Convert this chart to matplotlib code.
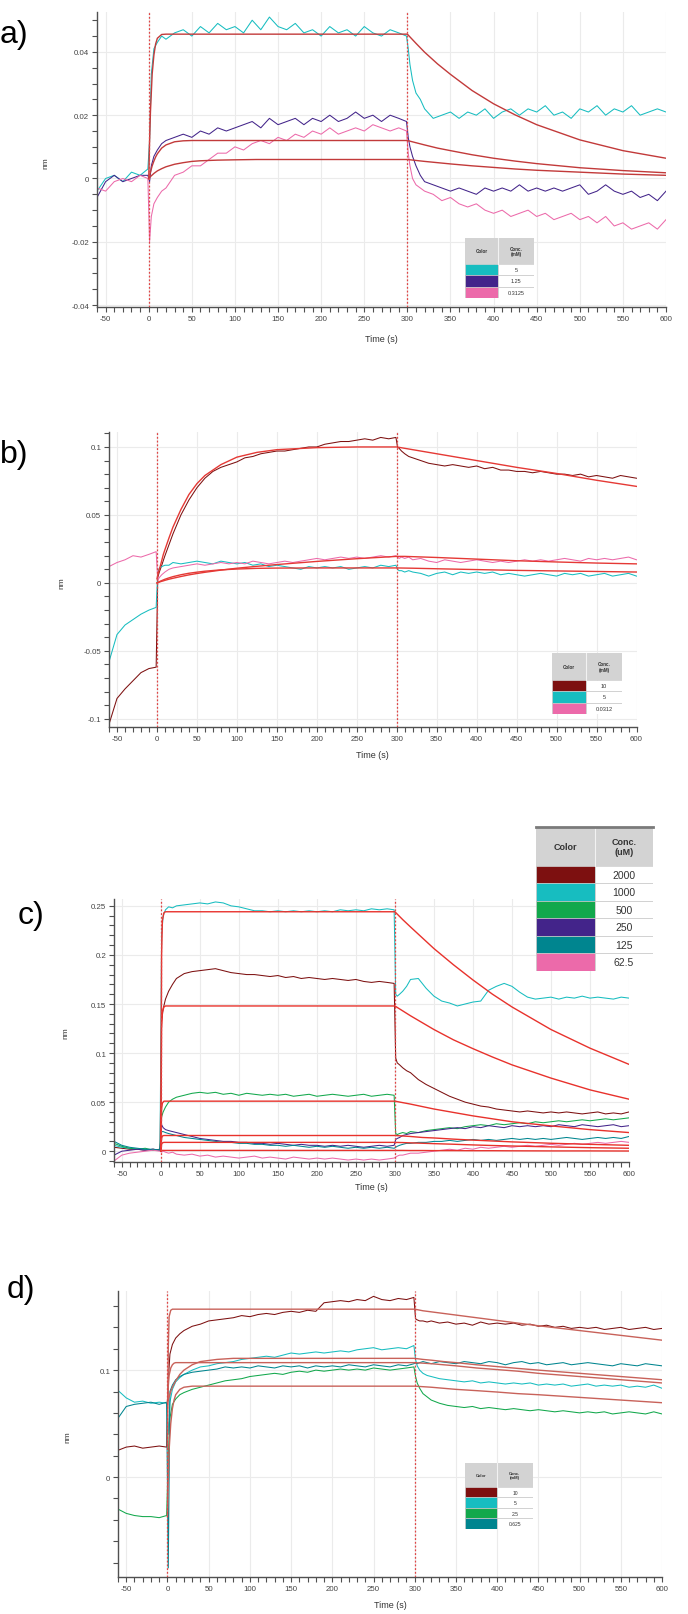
import numpy as np
import matplotlib
matplotlib.use("Agg")
import matplotlib.pyplot as plt
from matplotlib.ticker import MultipleLocator, FuncFormatter
from matplotlib.patches import Rectangle

plt.rcParams['axes.unicode_minus'] = False
plt.rcParams['font.family'] = ['Liberation Sans', 'DejaVu Sans']

# sampling times of the raw traces (s): baseline, association, dissociation
T = ([-60, -50, -40, -30, -20, -10, -1]
     + [1, 3, 6, 10, 15, 20] + list(range(30, 300, 10)) + [299]
     + [301, 303, 306, 310, 315, 320] + list(range(330, 610, 10)))
# sampling times of the fitted curves (s)
TF = [0, 1, 2, 4, 6, 8, 10, 15, 20, 30, 40, 50, 60, 80, 100, 125, 150, 200, 250, 300,
      310, 320, 335, 350, 375, 400, 425, 450, 500, 550, 600]

# ---------------- panel a ----------------
a_cyan = [
    -0.004, 0.000, 0.001, -0.001, 0.002, 0.001, 0.003,
    0.012, 0.033, 0.041, 0.043, 0.045, 0.044,
    0.046, 0.047, 0.045, 0.048, 0.046, 0.049, 0.047, 0.048, 0.046, 0.050,
    0.047, 0.051, 0.048, 0.047, 0.049, 0.046, 0.047, 0.045, 0.048, 0.046,
    0.047, 0.045, 0.048, 0.046, 0.045, 0.047, 0.046, 0.045,
    0.041, 0.036, 0.031, 0.027, 0.025, 0.022,
    0.019, 0.020, 0.021, 0.019, 0.021, 0.020, 0.022, 0.019, 0.021, 0.022,
    0.020, 0.022, 0.021, 0.023, 0.020, 0.021, 0.019, 0.022, 0.021, 0.023,
    0.020, 0.022, 0.021, 0.023, 0.020, 0.021, 0.022, 0.021]
a_purple = [
    -0.006, -0.001, 0.001, -0.001, 0.000, 0.001, 0.001,
    -0.001, 0.004, 0.007, 0.009, 0.011, 0.012,
    0.013, 0.014, 0.013, 0.015, 0.014, 0.016, 0.015, 0.016, 0.017, 0.018,
    0.016, 0.019, 0.017, 0.018, 0.019, 0.017, 0.019, 0.018, 0.020, 0.018,
    0.019, 0.021, 0.019, 0.020, 0.018, 0.020, 0.019, 0.018,
    0.013, 0.010, 0.007, 0.004, 0.001, -0.001,
    -0.002, -0.003, -0.004, -0.003, -0.004, -0.005, -0.003, -0.004, -0.003, -0.004,
    -0.002, -0.004, -0.003, -0.004, -0.003, -0.004, -0.003, -0.002, -0.005, -0.004,
    -0.002, -0.004, -0.005, -0.004, -0.006, -0.005, -0.007, -0.004]
a_pink = [
    -0.003, -0.004, -0.001, 0.000, -0.001, 0.001, 0.000,
    -0.020, -0.012, -0.008, -0.006, -0.004, -0.003,
    0.001, 0.002, 0.004, 0.004, 0.006, 0.008, 0.008, 0.010, 0.009, 0.011,
    0.012, 0.011, 0.013, 0.012, 0.014, 0.013, 0.015, 0.014, 0.016, 0.014,
    0.015, 0.016, 0.015, 0.017, 0.016, 0.015, 0.016, 0.015,
    0.008, 0.004, 0.000, -0.002, -0.003, -0.004,
    -0.005, -0.007, -0.006, -0.008, -0.009, -0.008, -0.010, -0.011, -0.010, -0.012,
    -0.011, -0.010, -0.012, -0.011, -0.013, -0.012, -0.011, -0.013, -0.012, -0.014,
    -0.012, -0.015, -0.014, -0.016, -0.015, -0.014, -0.016, -0.013]
a_fit1 = [0, 0.012, 0.021, 0.033, 0.039, 0.0425, 0.0443, 0.0455, 0.0456] + [0.0456] * 11 + [
    0.0427, 0.0399, 0.0362, 0.0329, 0.0278, 0.0236, 0.0201, 0.0170, 0.0122, 0.0088, 0.0064]
a_fit2 = [0, 0.001, 0.002, 0.004, 0.0055, 0.0068, 0.0078, 0.0096, 0.0106, 0.0116, 0.0119] + [0.012] * 9 + [
    0.0113, 0.0106, 0.0096, 0.0088, 0.0075, 0.0064, 0.0055, 0.0047, 0.0034, 0.0025, 0.0018]
a_fit3 = [0, 0.0003, 0.0006, 0.0011, 0.0016, 0.002, 0.0024, 0.0031, 0.0037, 0.0045, 0.005,
          0.0054, 0.0056, 0.0058, 0.0059, 0.006, 0.006, 0.006, 0.006, 0.006,
          0.0057, 0.0054, 0.005, 0.0046, 0.004, 0.0035, 0.003, 0.0026, 0.002, 0.0014, 0.001]
a_conc = ['5', '1.25', '0.3125']

# ---------------- panel b ----------------
b_maroon = [
    -0.104, -0.085, -0.078, -0.072, -0.066, -0.063, -0.062,
    0.004, 0.008, 0.013, 0.020, 0.028, 0.036,
    0.050, 0.061, 0.070, 0.077, 0.082, 0.085, 0.087, 0.089, 0.092, 0.093,
    0.095, 0.096, 0.097, 0.097, 0.098, 0.099, 0.100, 0.100, 0.102, 0.103,
    0.104, 0.104, 0.105, 0.106, 0.105, 0.107, 0.106, 0.107,
    0.100, 0.099, 0.097, 0.095, 0.093, 0.092,
    0.090, 0.088, 0.087, 0.086, 0.087, 0.086, 0.085, 0.086, 0.084, 0.085,
    0.083, 0.083, 0.082, 0.082, 0.081, 0.082, 0.081, 0.080, 0.080, 0.079,
    0.080, 0.078, 0.079, 0.078, 0.077, 0.079, 0.078, 0.077]
b_cyan = [
    -0.058, -0.038, -0.031, -0.027, -0.023, -0.020, -0.018,
    0.008, 0.011, 0.012, 0.013, 0.013, 0.015,
    0.014, 0.015, 0.016, 0.015, 0.014, 0.016, 0.015, 0.014, 0.015, 0.013,
    0.014, 0.012, 0.013, 0.012, 0.011, 0.010, 0.012, 0.011, 0.012, 0.011,
    0.012, 0.010, 0.011, 0.012, 0.011, 0.013, 0.012, 0.013,
    0.010, 0.009, 0.009, 0.008, 0.009, 0.008,
    0.007, 0.005, 0.007, 0.008, 0.006, 0.008, 0.007, 0.008, 0.007, 0.008,
    0.006, 0.007, 0.006, 0.005, 0.006, 0.007, 0.006, 0.005, 0.007, 0.006,
    0.007, 0.005, 0.006, 0.007, 0.005, 0.006, 0.007, 0.005]
b_pink = [
    0.012, 0.015, 0.017, 0.020, 0.019, 0.021, 0.023,
    0.002, 0.004, 0.006, 0.008, 0.010, 0.011,
    0.012, 0.013, 0.014, 0.013, 0.014, 0.015, 0.014, 0.015, 0.014, 0.016,
    0.015, 0.014, 0.015, 0.016, 0.015, 0.016, 0.017, 0.018, 0.017, 0.018,
    0.019, 0.018, 0.019, 0.018, 0.019, 0.020, 0.019, 0.020,
    0.019, 0.018, 0.019, 0.018, 0.019, 0.017,
    0.018, 0.016, 0.015, 0.017, 0.016, 0.015, 0.016, 0.017, 0.016, 0.015,
    0.016, 0.015, 0.016, 0.017, 0.016, 0.017, 0.016, 0.017, 0.018, 0.017,
    0.016, 0.018, 0.017, 0.018, 0.017, 0.018, 0.019, 0.017]
b_fit1 = [0.003, 0.0055, 0.008, 0.012, 0.0165, 0.021, 0.0245, 0.033, 0.041, 0.054, 0.065,
          0.073, 0.079, 0.087, 0.0925, 0.096, 0.098, 0.0995, 0.1, 0.1,
          0.099, 0.098, 0.0965, 0.095, 0.0925, 0.090, 0.0875, 0.085, 0.0805, 0.0755, 0.071]
b_fit2 = [0, 0.0003, 0.0006, 0.0012, 0.0017, 0.0022, 0.0027, 0.0037, 0.0046, 0.006, 0.0071,
          0.0079, 0.0086, 0.0096, 0.0102, 0.0107, 0.0109, 0.011, 0.011, 0.011,
          0.0109, 0.0108, 0.0106, 0.0104, 0.0101, 0.0098, 0.0095, 0.0092, 0.0088, 0.0084, 0.008]
b_fit3 = [0, 0.0002, 0.0004, 0.0008, 0.0012, 0.0015, 0.0019, 0.0027, 0.0034, 0.0047, 0.0059,
          0.0069, 0.0078, 0.0094, 0.0108, 0.0122, 0.0135, 0.0158, 0.0178, 0.0195,
          0.0195, 0.0193, 0.019, 0.0187, 0.0181, 0.0175, 0.0169, 0.0163, 0.0154, 0.0146, 0.014]
b_conc = ['10', '5', '0.0312']

# ---------------- panel c ----------------
c_maroon = [
    0.004, 0.003, 0.002, 0.002, 0.001, 0.002, 0.001,
    0.132, 0.145, 0.155, 0.163, 0.170, 0.176,
    0.181, 0.183, 0.184, 0.185, 0.186, 0.184, 0.182, 0.181, 0.180, 0.180,
    0.179, 0.178, 0.179, 0.177, 0.178, 0.176, 0.177, 0.176, 0.175, 0.176,
    0.175, 0.174, 0.175, 0.173, 0.172, 0.173, 0.172, 0.171,
    0.095, 0.090, 0.088, 0.085, 0.082, 0.080,
    0.073, 0.068, 0.064, 0.060, 0.056, 0.053, 0.050, 0.048, 0.046, 0.045,
    0.043, 0.042, 0.041, 0.040, 0.041, 0.040, 0.039, 0.040, 0.039, 0.040,
    0.039, 0.038, 0.039, 0.040, 0.038, 0.039, 0.038, 0.040]
c_cyan = [
    0.006, 0.004, 0.003, 0.002, 0.002, 0.001, 0.002,
    0.220, 0.240, 0.246, 0.249, 0.248, 0.250,
    0.251, 0.252, 0.253, 0.252, 0.254, 0.253, 0.250, 0.249, 0.247, 0.245,
    0.245, 0.244, 0.245, 0.244, 0.245, 0.244, 0.245, 0.244, 0.245, 0.244,
    0.246, 0.245, 0.246, 0.245, 0.247, 0.246, 0.247, 0.246,
    0.160, 0.158, 0.160, 0.163, 0.168, 0.175,
    0.176, 0.166, 0.158, 0.153, 0.151, 0.148, 0.150, 0.152, 0.153, 0.164,
    0.168, 0.171, 0.168, 0.162, 0.157, 0.155, 0.156, 0.157, 0.155, 0.157,
    0.156, 0.158, 0.156, 0.157, 0.156, 0.155, 0.157, 0.156]
c_green = [
    0.008, 0.005, 0.003, 0.002, 0.003, 0.001, 0.002,
    0.035, 0.040, 0.045, 0.050, 0.053, 0.055,
    0.057, 0.059, 0.060, 0.059, 0.060, 0.058, 0.059, 0.057, 0.059, 0.058,
    0.057, 0.058, 0.057, 0.058, 0.056, 0.057, 0.058, 0.056, 0.057, 0.058,
    0.057, 0.056, 0.057, 0.058, 0.056, 0.057, 0.058, 0.057,
    0.018, 0.017, 0.018, 0.019, 0.018, 0.020,
    0.019, 0.021, 0.022, 0.023, 0.024, 0.023, 0.025, 0.026, 0.027, 0.026,
    0.028, 0.027, 0.028, 0.029, 0.028, 0.030, 0.029, 0.030, 0.031, 0.030,
    0.031, 0.032, 0.031, 0.032, 0.033, 0.032, 0.033, 0.034]
c_purple = [
    -0.004, 0.000, 0.001, 0.002, 0.001, 0.002, 0.001,
    0.027, 0.024, 0.022, 0.021, 0.020, 0.019,
    0.017, 0.015, 0.013, 0.012, 0.011, 0.010, 0.010, 0.009, 0.009, 0.008,
    0.008, 0.007, 0.008, 0.007, 0.006, 0.007, 0.006, 0.006, 0.005, 0.006,
    0.005, 0.006, 0.005, 0.004, 0.005, 0.006, 0.005, 0.006,
    0.012, 0.013, 0.014, 0.016, 0.017, 0.018,
    0.019, 0.020, 0.021, 0.022, 0.023, 0.024, 0.023, 0.025, 0.024, 0.026,
    0.025, 0.024, 0.026, 0.025, 0.026, 0.025, 0.026, 0.025, 0.027, 0.026,
    0.025, 0.027, 0.026, 0.025, 0.026, 0.027, 0.025, 0.026]
c_teal = [
    0.010, 0.006, 0.004, 0.003, 0.002, 0.002, 0.001,
    0.020, 0.020, 0.019, 0.018, 0.017, 0.016,
    0.014, 0.013, 0.012, 0.011, 0.010, 0.009, 0.009, 0.008, 0.008, 0.007,
    0.007, 0.006, 0.006, 0.005, 0.006, 0.005, 0.004, 0.005, 0.004, 0.005,
    0.004, 0.003, 0.004, 0.003, 0.004, 0.003, 0.004, 0.003,
    0.004, 0.005, 0.006, 0.007, 0.008, 0.008,
    0.009, 0.009, 0.010, 0.010, 0.011, 0.010, 0.011, 0.012, 0.011, 0.012,
    0.011, 0.012, 0.013, 0.012, 0.013, 0.012, 0.013, 0.012, 0.013, 0.014,
    0.013, 0.012, 0.013, 0.014, 0.013, 0.014, 0.013, 0.015]
c_pink = [
    -0.010, -0.004, -0.002, -0.001, 0.000, 0.001, 0.000,
    -0.001, 0.000, -0.001, -0.002, -0.001, -0.003,
    -0.004, -0.003, -0.005, -0.004, -0.006, -0.005, -0.006, -0.007, -0.006, -0.005,
    -0.007, -0.006, -0.007, -0.008, -0.006, -0.007, -0.008, -0.007, -0.008, -0.007,
    -0.008, -0.009, -0.008, -0.009, -0.008, -0.009, -0.008, -0.007,
    -0.006, -0.005, -0.004, -0.004, -0.003, -0.002,
    -0.002, -0.001, 0.000, 0.001, 0.002, 0.001, 0.003, 0.002, 0.004, 0.003,
    0.004, 0.005, 0.004, 0.005, 0.006, 0.005, 0.006, 0.007, 0.006, 0.007,
    0.008, 0.007, 0.008, 0.009, 0.008, 0.009, 0.010, 0.009]
c_fit1 = [0, 0.2, 0.235, 0.243] + [0.244] * 16 + [
    0.236, 0.2285, 0.2175, 0.2065, 0.190, 0.1745, 0.160, 0.147, 0.124, 0.105, 0.0885]
c_fit2 = [0, 0.125, 0.142, 0.147] + [0.148] * 16 + [
    0.143, 0.138, 0.131, 0.124, 0.1135, 0.1045, 0.096, 0.088, 0.0745, 0.0625, 0.053]
c_fit3 = [0, 0.043, 0.049, 0.051] + [0.051] * 16 + [
    0.0495, 0.048, 0.0455, 0.043, 0.0395, 0.036, 0.033, 0.030, 0.0258, 0.022, 0.019]
c_fit4 = [0, 0.013, 0.0155, 0.016] + [0.016] * 16 + [
    0.0155, 0.015, 0.014, 0.0135, 0.0123, 0.0113, 0.0104, 0.0095, 0.0081, 0.007, 0.006]
c_fit5 = [0, 0.007, 0.0085, 0.009] + [0.009] * 16 + [
    0.0088, 0.0085, 0.0081, 0.0077, 0.0071, 0.0064, 0.0058, 0.0053, 0.0044, 0.0036, 0.003]
c_fit6 = [0, 0.0006, 0.0008, 0.0008] + [0.0008] * 16 + [
    0.0008, 0.0007, 0.0007, 0.0006, 0.0006, 0.0005, 0.0005, 0.0004, 0.0003, 0.0003, 0.0002]
c_conc = ['2000', '1000', '500', '250', '125', '62.5']

# ---------------- panel d ----------------
d_maroon = [
    0.025, 0.028, 0.029, 0.027, 0.028, 0.029, 0.028,
    0.090, 0.115, 0.124, 0.130, 0.134, 0.137,
    0.141, 0.143, 0.146, 0.147, 0.148, 0.149, 0.151, 0.150, 0.152, 0.153,
    0.152, 0.154, 0.155, 0.154, 0.156, 0.155, 0.163, 0.164, 0.165, 0.164,
    0.166, 0.165, 0.169, 0.166, 0.165, 0.167, 0.166, 0.168,
    0.148, 0.147, 0.146, 0.146, 0.145, 0.146,
    0.144, 0.145, 0.143, 0.144, 0.142, 0.145, 0.143, 0.144, 0.143, 0.144,
    0.142, 0.143, 0.141, 0.142, 0.140, 0.141, 0.139, 0.140, 0.139, 0.140,
    0.138, 0.139, 0.140, 0.138, 0.139, 0.140, 0.138, 0.139]
d_cyan = [
    0.081, 0.074, 0.070, 0.071, 0.069, 0.070, 0.069,
    0.040, 0.070, 0.082, 0.089, 0.093, 0.096,
    0.100, 0.103, 0.104, 0.106, 0.107, 0.108, 0.110, 0.111, 0.112, 0.113,
    0.112, 0.114, 0.116, 0.115, 0.116, 0.117, 0.116, 0.117, 0.118, 0.117,
    0.119, 0.120, 0.121, 0.119, 0.120, 0.121, 0.120, 0.123,
    0.110, 0.104, 0.100, 0.097, 0.095, 0.094,
    0.092, 0.091, 0.090, 0.089, 0.090, 0.088, 0.089, 0.088, 0.087, 0.088,
    0.087, 0.088, 0.086, 0.087, 0.086, 0.087, 0.085, 0.086, 0.087, 0.085,
    0.086, 0.085, 0.086, 0.084, 0.085, 0.084, 0.086, 0.083]
d_green = [
    -0.030, -0.034, -0.036, -0.037, -0.037, -0.038, -0.036,
    0.020, 0.055, 0.068, 0.073, 0.077, 0.079,
    0.082, 0.084, 0.086, 0.088, 0.090, 0.091, 0.092, 0.094, 0.095, 0.096,
    0.097, 0.096, 0.098, 0.099, 0.098, 0.100, 0.099, 0.100, 0.101, 0.100,
    0.101, 0.100, 0.102, 0.101, 0.100, 0.101, 0.102, 0.103,
    0.094, 0.088, 0.083, 0.078, 0.075, 0.072,
    0.069, 0.067, 0.066, 0.065, 0.066, 0.064, 0.065, 0.064, 0.063, 0.064,
    0.063, 0.062, 0.063, 0.062, 0.061, 0.062, 0.061, 0.060, 0.061, 0.060,
    0.061, 0.059, 0.060, 0.061, 0.060, 0.059, 0.061, 0.059]
d_teal = [
    0.055, 0.066, 0.068, 0.069, 0.070, 0.068, 0.070,
    -0.085, 0.080, 0.086, 0.091, 0.094, 0.096,
    0.098, 0.099, 0.100, 0.101, 0.103, 0.102, 0.103, 0.102, 0.104, 0.103,
    0.102, 0.104, 0.103, 0.104, 0.102, 0.104, 0.103, 0.104, 0.103, 0.105,
    0.104, 0.103, 0.105, 0.104, 0.103, 0.105, 0.104, 0.106,
    0.107, 0.106, 0.107, 0.108, 0.107, 0.106,
    0.108, 0.107, 0.106, 0.108, 0.107, 0.106, 0.108, 0.107, 0.105, 0.107,
    0.108, 0.106, 0.107, 0.105, 0.106, 0.107, 0.105, 0.106, 0.107, 0.106,
    0.105, 0.104, 0.106, 0.105, 0.104, 0.106, 0.105, 0.104]
d_fit1 = [0.028, 0.12, 0.15, 0.156] + [0.157] * 16 + [
    0.1555, 0.1545, 0.153, 0.1515, 0.149, 0.1465, 0.144, 0.1415, 0.137, 0.1325, 0.128]
d_fit2 = [0.07, 0.072, 0.075, 0.080, 0.084, 0.087, 0.090, 0.096, 0.100, 0.105, 0.108,
          0.109, 0.110, 0.111] + [0.111] * 6 + [
    0.110, 0.1093, 0.108, 0.107, 0.105, 0.1033, 0.1016, 0.100, 0.097, 0.094, 0.091]
d_fit3 = [0.07, 0.085, 0.095, 0.102, 0.105, 0.1065] + [0.107] * 14 + [
    0.1065, 0.106, 0.105, 0.104, 0.102, 0.1005, 0.099, 0.097, 0.094, 0.091, 0.088]
d_fit4 = [-0.037, 0.0, 0.025, 0.050, 0.064, 0.072, 0.077, 0.082, 0.084, 0.085] + [0.085] * 10 + [
    0.0845, 0.084, 0.083, 0.082, 0.0808, 0.0795, 0.078, 0.077, 0.0745, 0.072, 0.0695]
d_conc = ['10', '5', '2.5', '0.625']

MAROON = '#7D1010'
CYAN = '#17BDC0'
GREEN = '#12A84C'
PURPLE = '#43248A'
TEAL = '#00858F'
PINK = '#EC6AAA'

W, H = 688, 1615
fig = plt.figure(figsize=(W / 100, H / 100), dpi=100)


def px_axes(left, top, right, bottom):
    return fig.add_axes([left / W, 1 - bottom / H, (right - left) / W, (bottom - top) / H])


def style(ax, ylim, ymaj, ymin_step):
    ax.set_xlim(-60, 600)
    ax.set_ylim(*ylim)
    ax.xaxis.set_major_locator(MultipleLocator(50))
    ax.xaxis.set_minor_locator(MultipleLocator(10))
    ax.yaxis.set_major_locator(MultipleLocator(ymaj))
    ax.yaxis.set_minor_locator(MultipleLocator(ymin_step))
    ax.yaxis.set_major_formatter(FuncFormatter(lambda v, p: '%g' % round(v, 4)))
    for s in ['top', 'right']:
        ax.spines[s].set_visible(False)
    for s in ['left', 'bottom']:
        ax.spines[s].set_color('#505050')
        ax.spines[s].set_linewidth(1.0)
    ax.tick_params(which='both', direction='out', length=3.5, width=0.8, color='#505050',
                   labelsize=5.7, labelcolor='#444444', pad=2)
    ax.grid(True, which='major', color='#EBEBEB', lw=0.8)
    ax.set_axisbelow(True)
    for xv in (0, 300):
        ax.axvline(xv, color='#E04545', ls=(0, (1.5, 1.5)), lw=0.9, zorder=5)


def table(left, top, right, bottom, split, head, colors, labels, fs_head, fs_val, topbar=False):
    tax = fig.add_axes([left / W, 1 - bottom / H, (right - left) / W, (bottom - top) / H])
    tax.set_xlim(0, 1)
    tax.set_ylim(0, 1)
    tax.axis('off')
    n = len(labels)
    rh = (1 - head) / n
    tax.add_patch(Rectangle((0, 1 - head), 1, head, fc='#D3D3D3', ec='none'))
    tax.plot([split, split], [1 - head, 1], color='#F2F2F2', lw=0.8)
    tax.text(split / 2, 1 - head / 2, 'Color', ha='center', va='center',
             fontsize=fs_head, fontweight='bold', color='#333333')
    tax.text((1 + split) / 2, 1 - head / 2, 'Conc.\n' + ('(uM)' if topbar else '(mM)'),
             ha='center', va='center', fontsize=fs_head, fontweight='bold',
             color='#333333', linespacing=1.1)
    for i, (c, lab) in enumerate(zip(colors, labels)):
        y0 = 1 - head - (i + 1) * rh
        tax.add_patch(Rectangle((0, y0), split, rh, fc=c, ec='#C8C8C8', lw=0.5))
        tax.add_patch(Rectangle((split, y0), 1 - split, rh, fc='white', ec='#C8C8C8', lw=0.5))
        tax.text((1 + split) / 2, y0 + rh / 2, lab, ha='center', va='center',
                 fontsize=fs_val, color='#333333')
    if topbar:
        tax.plot([0, 1], [1, 1], color='#7A7A7A', lw=2.0, clip_on=False)


def labels(xc, ty, nx, ny, tag, tx, tyy):
    fig.text(xc / W, 1 - ty / H, 'Time (s)', ha='center', va='center', fontsize=6.5, color='#333333')
    fig.text(nx / W, 1 - ny / H, 'nm', ha='center', va='center', rotation=90, fontsize=6,
             color='#333333')
    fig.text(tx / W, 1 - tyy / H, tag, ha='left', va='center', fontsize=23,
             family='Liberation Sans')


LW = 0.75

# panel a
ax = px_axes(97, 13, 666, 308)
style(ax, (-0.0406, 0.0526), 0.02, 0.005)
for y, c in [(a_cyan, CYAN), (a_purple, PURPLE), (a_pink, PINK)]:
    ax.plot(T, y, color=c, lw=LW)
for f in (a_fit1, a_fit2, a_fit3):
    ax.plot(TF, f, color='#C23A3A', lw=1.0, zorder=4)
table(465, 239, 534, 299, 0.48, 0.43, [CYAN, PURPLE, PINK], a_conc, 3.3, 4)
labels(381, 339, 46, 163, 'a)', 0, 35)

# panel b
ax = px_axes(109, 433, 636.5, 728)
style(ax, (-0.106, 0.111), 0.05, 0.01)
for y, c in [(b_maroon, MAROON), (b_cyan, CYAN), (b_pink, PINK)]:
    ax.plot(T, y, color=c, lw=LW)
for f in (b_fit1, b_fit2, b_fit3):
    ax.plot(TF, f, color='#E53935', lw=1.0, zorder=4)
table(552, 654, 622, 715, 0.49, 0.44, [MAROON, CYAN, PINK], b_conc, 3.3, 4)
labels(372, 756, 62, 583, 'b)', 0, 455)

# panel c
ax = px_axes(114, 900, 629, 1163)
style(ax, (-0.011, 0.257), 0.05, 0.01)
for y, c in [(c_maroon, MAROON), (c_cyan, CYAN), (c_green, GREEN),
             (c_purple, PURPLE), (c_teal, TEAL), (c_pink, PINK)]:
    ax.plot(T, y, color=c, lw=LW)
for f in (c_fit1, c_fit2, c_fit3, c_fit4, c_fit5, c_fit6):
    ax.plot(TF, f, color='#E8322C', lw=1.0, zorder=4)
table(536, 828, 653, 972, 0.50, 0.27, [MAROON, CYAN, GREEN, PURPLE, TEAL, PINK], c_conc,
      6.5, 7.5, topbar=True)
labels(371, 1188, 66, 1033, 'c)', 18, 916)

# panel d
ax = px_axes(118, 1292, 662, 1578)
style(ax, (-0.0935, 0.174), 0.1, 0.02)
for y, c in [(d_maroon, MAROON), (d_cyan, CYAN), (d_green, GREEN), (d_teal, TEAL)]:
    ax.plot(T, y, color=c, lw=LW)
for f in (d_fit1, d_fit2, d_fit3, d_fit4):
    ax.plot(TF, f, color='#C8625A', lw=1.0, zorder=4)
table(465, 1464, 533, 1530, 0.47, 0.36, [MAROON, CYAN, GREEN, TEAL], d_conc, 3.0, 3.6)
labels(390, 1606, 68, 1437, 'd)', 7, 1290)

fig.savefig('out.png', dpi=100)
